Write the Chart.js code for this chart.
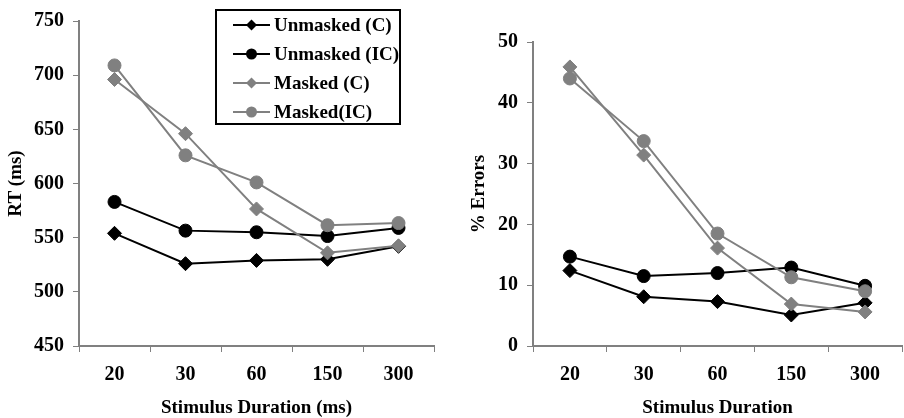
<!DOCTYPE html>
<html>
<head>
<meta charset="utf-8">
<script src="https://cdn.jsdelivr.net/npm/chart.js@4"></script>
<style>
html, body { margin: 0; padding: 0; background: #fff; overflow: hidden; }
#wrap { position: relative; width: 904px; height: 418px; overflow: hidden; }
#rtChart { position: absolute; left: 0; top: 0; }
#errChart { position: absolute; left: 450px; top: 0; }
</style>
</head>
<body>
<div id="wrap">
  <canvas id="rtChart" width="450" height="418"></canvas>
  <canvas id="errChart" width="460" height="418"></canvas>
</div>
<script>
// categories
var durations = ["20", "30", "60", "150", "300"];
var seriesNames = ["Unmasked (C)", "Unmasked (IC)", "Masked (C)", "Masked(IC)"];

// RT (ms)
var rtUnmaskedC = [554, 526, 529, 530, 542];
var rtUnmaskedIC = [583, 556.5, 555, 551.5, 559];
var rtMaskedC = [696, 646, 576.5, 536, 542.5];
var rtMaskedIC = [709, 626, 601, 561.5, 563.5];

// % errors
var errUnmaskedC = [12.4, 8.1, 7.3, 5.1, 7.1];
var errUnmaskedIC = [14.7, 11.5, 12.0, 12.9, 9.9];
var errMaskedC = [45.9, 31.4, 16.1, 6.9, 5.6];
var errMaskedIC = [44.0, 33.7, 18.5, 11.3, 9.0];

var colors = ['#000000', '#000000', '#808080', '#808080'];
var shapes = ['rectRot', 'circle', 'rectRot', 'circle'];
var FONT = '"Liberation Serif", "Times New Roman", serif';
var AXIS = '#808080';

function makeDatasets(series) {
    return series.map(function (vals, i) {
        return {
            label: seriesNames[i],
            data: vals,
            borderColor: colors[i],
            backgroundColor: colors[i],
            borderWidth: 2,
            pointStyle: shapes[i],
            pointRadius: shapes[i] == 'circle' ? 6.5 : 7,
            pointBorderWidth: 1,
            pointBorderColor: colors[i],
            pointBackgroundColor: colors[i],
            tension: 0,
            order: 4 - i
        };
    });
}

function xScale(title) {
    return {
        type: 'category',
        offset: true,
        grid: { offset: true, drawOnChartArea: false, drawTicks: true, tickLength: 6, color: AXIS, lineWidth: 1 },
        border: { display: true, color: AXIS, width: 2 },
        ticks: { color: '#000', padding: 11, font: { family: FONT, size: 20, weight: 'bold', lineHeight: 1.2 } },
        title: { display: true, text: title, color: '#000', padding: { top: 0, bottom: 0 },
                 font: { family: FONT, size: 19, weight: 'bold', lineHeight: 1 } },
        afterFit: function (scale) { scale.height = 72; }
    };
}

function yScale(title, min, max, step, width, titlePad) {
    return {
        min: min, max: max,
        grid: { drawOnChartArea: false, drawTicks: true, tickLength: 6, color: AXIS, lineWidth: 1 },
        border: { display: true, color: AXIS, width: 2 },
        ticks: { stepSize: step, color: '#000', padding: 9, font: { family: FONT, size: 20, weight: 'bold' } },
        title: { display: true, text: title, color: '#000', padding: { top: titlePad, bottom: 0 },
                 font: { family: FONT, size: 19, weight: 'bold', lineHeight: 1 } },
        afterFit: function (scale) { scale.width = width; }
    };
}

var legendBox = {
    id: 'legendBox',
    afterDraw: function (chart) {
        var ctx = chart.ctx;
        ctx.save();
        ctx.fillStyle = '#fff';
        ctx.fillRect(216, 10, 184, 114);
        ctx.strokeStyle = '#000';
        ctx.lineWidth = 2;
        ctx.strokeRect(216, 10, 184, 114);
        chart.data.datasets.forEach(function (ds, i) {
            var y = 25 + i * 29;
            ctx.strokeStyle = ds.borderColor;
            ctx.lineWidth = 2;
            ctx.beginPath();
            ctx.moveTo(233, y);
            ctx.lineTo(270, y);
            ctx.stroke();
            ctx.fillStyle = ds.borderColor;
            ctx.beginPath();
            if (ds.pointStyle == 'circle') {
                ctx.arc(251.5, y, 5.5, 0, Math.PI * 2);
            } else {
                ctx.moveTo(251.5, y - 5.5);
                ctx.lineTo(257, y);
                ctx.lineTo(251.5, y + 5.5);
                ctx.lineTo(246, y);
                ctx.closePath();
            }
            ctx.fill();
            ctx.fillStyle = '#000';
            ctx.font = 'bold 19px ' + FONT;
            ctx.textBaseline = 'middle';
            ctx.textAlign = 'left';
            ctx.fillText(ds.label, 274, y + 1);
        });
        ctx.restore();
    }
};

function baseOptions(xs, ys, top, right) {
    return {
        responsive: false,
        animation: false,
        devicePixelRatio: 1,
        layout: { padding: { top: top, right: right, bottom: 0, left: 0 } },
        plugins: { legend: { display: false }, tooltip: { enabled: false } },
        scales: { x: xs, y: ys }
    };
}

new Chart(document.getElementById('rtChart').getContext('2d'), {
    type: 'line',
    data: { labels: durations, datasets: makeDatasets([rtUnmaskedC, rtUnmaskedIC, rtMaskedC, rtMaskedIC]) },
    options: baseOptions(xScale('Stimulus Duration (ms)'), yScale('RT (ms)', 450, 750, 50, 79, 6.5), 21, 16),
    plugins: [legendBox]
});

new Chart(document.getElementById('errChart').getContext('2d'), {
    type: 'line',
    data: { labels: durations, datasets: makeDatasets([errUnmaskedC, errUnmaskedIC, errMaskedC, errMaskedIC]) },
    options: baseOptions(xScale('Stimulus Duration'), yScale('% Errors', 0, 50, 10, 83, 19.5), 42, 2)
});
</script>
</body>
</html>
